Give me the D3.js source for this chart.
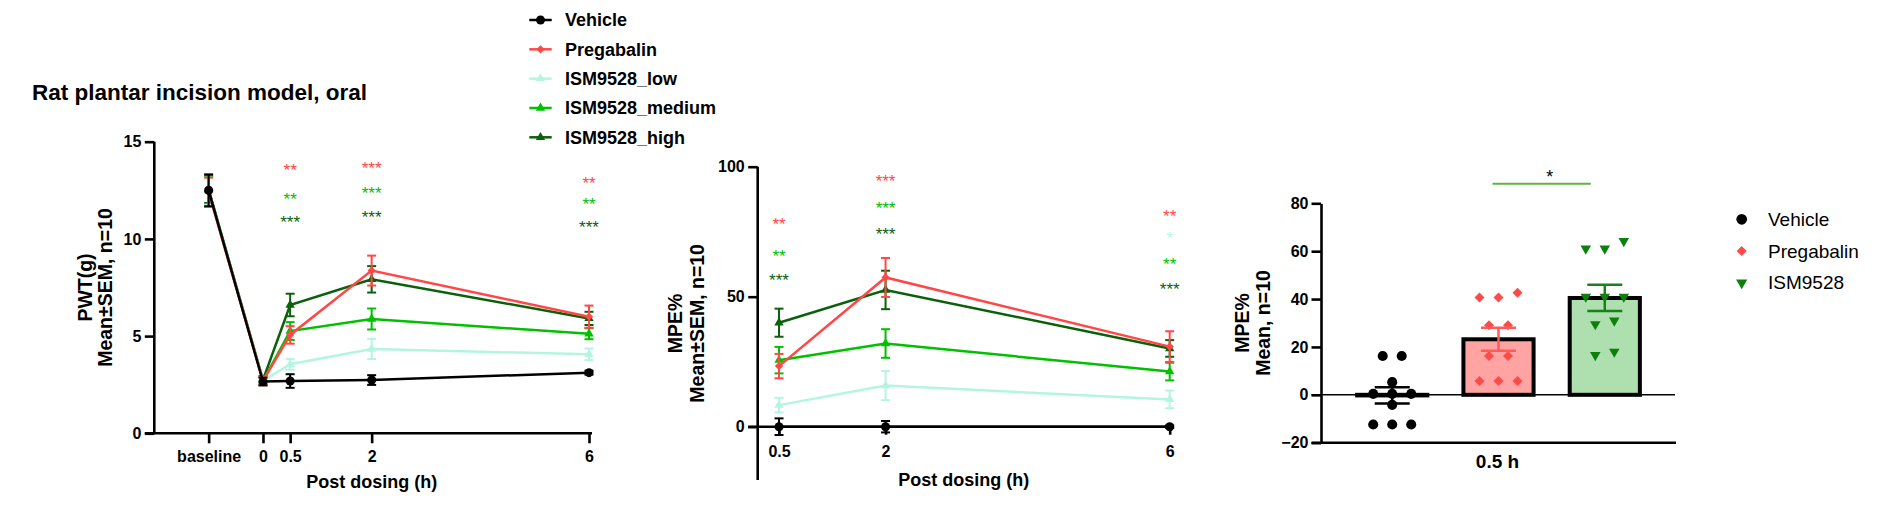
<!DOCTYPE html>
<html>
<head>
<meta charset="utf-8">
<script src="https://cdn.jsdelivr.net/npm/d3@7"></script>
<style>
  body { margin: 0; background: #fff; }
  text { font-family: "Liberation Sans", Arial, sans-serif; }
</style>
</head>
<body>
<div id="chart"></div>
<script>
// ---- groups (left + middle charts)
var groups = ["Vehicle", "Pregabalin", "ISM9528_low", "ISM9528_medium", "ISM9528_high"];
var groupColors = ["#000000", "#ff4747", "#b4f5e2", "#00c000", "#0b600b"];
var groupShapes = ["circle", "diamond", "triangle", "triangle", "triangle"];

// ---- PWT (g), mean and SEM
var pwtHours = [-1, 0, 0.5, 2, 6];
var pwtTickLabels = ["baseline", "0", "0.5", "2", "6"];
var pwtVehicle = [12.5, 2.66, 2.69, 2.74, 3.12];
var pwtPregabalin = [12.4, 2.7, 5.06, 8.37, 6.0];
var pwtLow = [12.45, 2.7, 3.55, 4.34, 4.06];
var pwtMedium = [12.5, 2.7, 5.26, 5.88, 5.12];
var pwtHigh = [12.55, 2.75, 6.6, 7.92, 5.91];
var pwtVehicleSem = [0.82, 0.2, 0.35, 0.25, 0.1];
var pwtPregabalinSem = [0.75, 0.2, 0.45, 0.77, 0.57];
var pwtLowSem = [0.7, 0.2, 0.28, 0.52, 0.3];
var pwtMediumSem = [0.7, 0.2, 0.46, 0.54, 0.28];
var pwtHighSem = [0.7, 0.2, 0.58, 0.68, 0.34];
// significance marks (text and height in PWT units)
var pwtStarsPregabalin = ["", "", "**", "***", "**"];
var pwtStarsMedium = ["", "", "**", "***", "**"];
var pwtStarsHigh = ["", "", "***", "***", "***"];
var pwtStarLevelPregabalin = [0, 0, 13.7, 13.84, 13.03];
var pwtStarLevelMedium = [0, 0, 12.22, 12.52, 11.97];
var pwtStarLevelHigh = [0, 0, 11.06, 11.28, 10.8];

// ---- MPE% over time, mean and SEM
var mpeHours = [0.5, 2, 6];
var mpeTickLabels = ["0.5", "2", "6"];
var mpeVehicle = [0, 0, 0];
var mpePregabalin = [23.3, 57.4, 30.8];
var mpeLow = [8.3, 15.8, 10.5];
var mpeMedium = [25.6, 32, 21.2];
var mpeHigh = [40, 52.6, 30.1];
var mpeVehicleSem = [3.2, 2.2, 0.5];
var mpePregabalinSem = [4.7, 7.5, 5.9];
var mpeLowSem = [2.8, 5.6, 3.4];
var mpeMediumSem = [5.1, 5.5, 3.4];
var mpeHighSem = [5.4, 7.4, 3.2];
var mpeStarsPregabalin = ["**", "***", "**"];
var mpeStarsLow = ["", "", "*"];
var mpeStarsMedium = ["**", "***", "**"];
var mpeStarsHigh = ["***", "***", "***"];
var mpeStarLevelPregabalin = [79.1, 95.8, 82.3];
var mpeStarLevelLow = [0, 0, 73.7];
var mpeStarLevelMedium = [67.1, 85.3, 63.8];
var mpeStarLevelHigh = [57.6, 75.3, 54.2];

// ---- MPE% at 0.5 h, individual animals
var barGroups = ["Vehicle", "Pregabalin", "ISM9528"];
var barPointsVehicle = [16.2, 16.2, 5.3, 0.4, 0.4, 0.4, -4.2, -12.4, -12.4, -12.4];
var barPointsPregabalin = [42.6, 40.7, 40.7, 29.1, 29.1, 16.2, 16.2, 5.8, 5.8, 5.8];
var barPointsIsm = [64.2, 61.1, 61.1, 41, 41, 41, 31, 29.5, 18, 16.6];
var barTicks = [-20, 0, 20, 40, 60, 80];
var barSignificance = ["Pregabalin", "ISM9528", "*", 88.2];

var barPointColors = ["#000000", "#ff4a4a", "#0b800b"];
var barFills = ["#7f7f7f", "#ffa3a3", "#aedfae"];
var barErrColors = ["#000000", "#ff5a5a", "#1a801a"];
var barShapes = ["circle", "diamond", "triangleDown"];

// -----------------------------------------------------------------
const W = 1885, H = 525;
let svg = d3.select('#chart').append('svg')
    .attr('width', W).attr('height', H);

function symbolPath(shape, size) {
    if (shape === 'circle') return d3.symbol(d3.symbolCircle, size)();
    if (shape === 'diamond') return d3.symbol(d3.symbolSquare, size)();
    return d3.symbol(d3.symbolTriangle, size)();
}
function symbolRotate(shape) {
    if (shape === 'diamond') return 45;
    if (shape === 'triangleDown') return 180;
    return 0;
}
function styleAxis(ax, fontSize) {
    ax.selectAll('path, line').attr('stroke', '#000').attr('stroke-width', 2.6);
    ax.selectAll('text')
        .attr('fill', '#000')
        .style('font-size', fontSize + 'px')
        .style('font-weight', 'bold');
}

// title
svg.append('text')
    .attr('x', 32).attr('y', 100)
    .style('font-size', '22.5px').style('font-weight', 'bold')
    .text('Rat plantar incision model, oral');

function buildLine(cfg) {
    const x = d3.scaleLinear().domain(cfg.xDomain).range(cfg.xRange);
    const y = d3.scaleLinear().domain(cfg.yDomain).range(cfg.yRange);
    let g = svg.append('g');

    // y-axis
    let yAxis = g.append('g')
        .attr('transform', `translate(${cfg.xRange[0]},0)`)
        .call(d3.axisLeft(y).tickValues(cfg.yTicks).tickSize(9.5).tickPadding(3.5).tickSizeOuter(0));
    yAxis.select('.domain').attr('d', `M0,${cfg.yRange[0] + cfg.yExtra}V${cfg.yRange[1]}`);
    styleAxis(yAxis, 16);

    // x-axis
    let xAxis = g.append('g')
        .attr('transform', `translate(0,${y(cfg.xAxisAt)})`)
        .call(d3.axisBottom(x).tickValues(cfg.xTicks)
            .tickFormat((d, i) => cfg.xLabels[i])
            .tickSize(cfg.xTickSize).tickPadding(cfg.xPad).tickSizeOuter(0));
    xAxis.select('.domain').attr('d', `M${cfg.xRange[0] - 9.5},0H${x(cfg.xTicks[cfg.xTicks.length - 1]) + 3}`);
    styleAxis(xAxis, 16);

    // axis titles
    g.append('text')
        .attr('x', (cfg.xRange[0] + cfg.xRange[1]) / 2 + cfg.xTitleShift)
        .attr('y', cfg.xTitleY).attr('dy', '0.35em')
        .attr('text-anchor', 'middle')
        .style('font-size', '18px').style('font-weight', 'bold')
        .text('Post dosing (h)');

    const yMid = (cfg.yRange[0] + cfg.yRange[1] + cfg.yExtra) / 2;
    cfg.yTitle.forEach((t, i) => {
        g.append('text')
            .attr('transform', `translate(${cfg.yTitleX[i]},${yMid}) rotate(-90)`)
            .attr('dy', '0.35em')
            .attr('text-anchor', 'middle')
            .style('font-size', '19.5px').style('font-weight', 'bold')
            .text(t);
    });

    // series, last group drawn first
    for (let k = groups.length - 1; k >= 0; k--) {
        const pts = cfg.xTicks.map((h, i) => ({ h: h, m: cfg.means[k][i], s: cfg.sems[k][i] }));
        const col = groupColors[k];
        let sg = g.append('g');

        sg.append('path')
            .datum(pts)
            .attr('fill', 'none')
            .attr('stroke', col)
            .attr('stroke-width', 2.5)
            .attr('d', d3.line().x(d => x(d.h)).y(d => y(d.m)));

        let eb = sg.selectAll('g.err').data(pts).enter().append('g')
            .attr('stroke', col).attr('stroke-width', 2).attr('fill', 'none');
        eb.append('line')
            .attr('x1', d => x(d.h)).attr('x2', d => x(d.h))
            .attr('y1', d => y(d.m - d.s)).attr('y2', d => y(d.m + d.s));
        eb.append('line')
            .attr('x1', d => x(d.h) - 4.5).attr('x2', d => x(d.h) + 4.5)
            .attr('y1', d => y(d.m + d.s)).attr('y2', d => y(d.m + d.s));
        eb.append('line')
            .attr('x1', d => x(d.h) - 4.5).attr('x2', d => x(d.h) + 4.5)
            .attr('y1', d => y(d.m - d.s)).attr('y2', d => y(d.m - d.s));

        const shape = groupShapes[k];
        const size = shape === 'circle' ? 64 : (shape === 'diamond' ? 34 : 38);
        sg.selectAll('path.mk').data(pts).enter().append('path')
            .attr('d', symbolPath(shape, size))
            .attr('fill', col)
            .attr('transform', d => `translate(${x(d.h)},${y(d.m)}) rotate(${symbolRotate(shape)})`);
    }

    // significance marks
    cfg.stars.forEach(st => {
        st.text.forEach((t, i) => {
            if (!t) return;
            g.append('text')
                .attr('x', x(cfg.xTicks[i]))
                .attr('y', y(st.level[i]))
                .attr('dy', '0.55em')
                .attr('text-anchor', 'middle')
                .attr('fill', groupColors[st.group])
                .style('font-size', '17px')
                .text(t);
        });
    });
}

// left chart: PWT
buildLine({
    xDomain: [-2, 6], xRange: [154.3, 589],
    yDomain: [0, 15], yRange: [433.3, 141.7], yExtra: 0,
    yTicks: [0, 5, 10, 15],
    xTicks: pwtHours, xLabels: pwtTickLabels,
    xAxisAt: 0, xTickSize: 10, xPad: 7.5,
    xTitleY: 481.7, xTitleShift: 0,
    yTitle: ['PWT(g)', 'Mean±SEM, n=10'], yTitleX: [85, 105],
    means: [pwtVehicle, pwtPregabalin, pwtLow, pwtMedium, pwtHigh],
    sems: [pwtVehicleSem, pwtPregabalinSem, pwtLowSem, pwtMediumSem, pwtHighSem],
    stars: [
        { group: 1, text: pwtStarsPregabalin, level: pwtStarLevelPregabalin },
        { group: 3, text: pwtStarsMedium, level: pwtStarLevelMedium },
        { group: 4, text: pwtStarsHigh, level: pwtStarLevelHigh }
    ]
});

// middle chart: MPE% over time
buildLine({
    xDomain: [0.2, 6], xRange: [757.7, 1169.7],
    yDomain: [-20, 100], yRange: [478.7, 166.7], yExtra: 1.3,
    yTicks: [0, 50, 100],
    xTicks: mpeHours, xLabels: mpeTickLabels,
    xAxisAt: 0, xTickSize: 8, xPad: 11,
    xTitleY: 480, xTitleShift: 0,
    yTitle: ['MPE%', 'Mean±SEM, n=10'], yTitleX: [675, 697],
    means: [mpeVehicle, mpePregabalin, mpeLow, mpeMedium, mpeHigh],
    sems: [mpeVehicleSem, mpePregabalinSem, mpeLowSem, mpeMediumSem, mpeHighSem],
    stars: [
        { group: 1, text: mpeStarsPregabalin, level: mpeStarLevelPregabalin },
        { group: 2, text: mpeStarsLow, level: mpeStarLevelLow },
        { group: 3, text: mpeStarsMedium, level: mpeStarLevelMedium },
        { group: 4, text: mpeStarsHigh, level: mpeStarLevelHigh }
    ]
});

// top legend
const legY = d3.scalePoint().domain(groups).range([20, 137.3]);
let leg = svg.append('g');
groups.forEach((name, k) => {
    const yy = legY(name);
    leg.append('line')
        .attr('x1', 529.3).attr('x2', 551.7).attr('y1', yy).attr('y2', yy)
        .attr('stroke', groupColors[k]).attr('stroke-width', 2.5);
    const shape = groupShapes[k];
    leg.append('path')
        .attr('d', symbolPath(shape, shape === 'circle' ? 64 : (shape === 'diamond' ? 34 : 38)))
        .attr('fill', groupColors[k])
        .attr('transform', `translate(540.5,${yy}) rotate(${symbolRotate(shape)})`);
    leg.append('text')
        .attr('x', 565).attr('y', yy).attr('dy', '0.35em')
        .style('font-size', '18px').style('font-weight', 'bold')
        .text(name);
});

// ---- right chart: bars + individual points at 0.5 h
const barPoints = [barPointsVehicle, barPointsPregabalin, barPointsIsm];
const xb = d3.scaleBand().domain(barGroups).range([1321, 1676]).paddingInner(0.34).paddingOuter(0.34);
const yb = d3.scaleLinear().domain([-20, 80]).range([442.7, 203.3]);
let g3 = svg.append('g');

let yAxis3 = g3.append('g')
    .attr('transform', 'translate(1321,0)')
    .call(d3.axisLeft(yb).tickValues(barTicks).tickSize(9.5).tickPadding(3).tickSizeOuter(0));
styleAxis(yAxis3, 16);

let xAxis3 = g3.append('g')
    .attr('transform', `translate(0,${yb(-20)})`)
    .call(d3.axisBottom(xb).tickSize(0).tickFormat(''));
xAxis3.select('.domain').attr('d', 'M1311.5,0H1676');
styleAxis(xAxis3, 16);

g3.append('text')
    .attr('x', 1497.5).attr('y', 461.7).attr('dy', '0.35em')
    .attr('text-anchor', 'middle')
    .style('font-size', '19px').style('font-weight', 'bold')
    .text('0.5 h');

['MPE%', 'Mean, n=10'].forEach((t, i) => {
    g3.append('text')
        .attr('transform', `translate(${[1242.5, 1263.4][i]},${(yb(-20) + yb(80)) / 2}) rotate(-90)`)
        .attr('dy', '0.35em')
        .attr('text-anchor', 'middle')
        .style('font-size', '19.5px').style('font-weight', 'bold')
        .text(t);
});

const bw = xb.bandwidth();
const stats = barPoints.map(v => ({
    mean: d3.mean(v),
    sem: d3.deviation(v) / Math.sqrt(v.length)
}));

// bars
g3.selectAll('rect.bar').data(barGroups).enter().append('rect')
    .attr('x', d => xb(d))
    .attr('y', (d, i) => yb(Math.max(0, stats[i].mean)))
    .attr('width', bw)
    .attr('height', (d, i) => Math.abs(yb(stats[i].mean) - yb(0)))
    .attr('fill', (d, i) => barFills[i])
    .attr('stroke', '#000')
    .attr('stroke-width', 4);

// zero line
g3.append('line')
    .attr('x1', 1311.5).attr('x2', 1675)
    .attr('y1', yb(0)).attr('y2', yb(0))
    .attr('stroke', '#000').attr('stroke-width', 1.6);

// individual points, rows of similar values spread sideways
barGroups.forEach((name, k) => {
    const cx = xb(name) + bw / 2;
    const rows = d3.groups(barPoints[k].slice().sort(d3.ascending), v => Math.round(v / 8));
    const shape = barShapes[k];
    const size = shape === 'circle' ? 80 : (shape === 'diamond' ? 50 : 48);
    rows.forEach(([, vals]) => {
        vals.forEach((v, j) => {
            const px = cx + (j - (vals.length - 1) / 2) * 19;
            g3.append('path')
                .attr('d', symbolPath(shape, size))
                .attr('fill', barPointColors[k])
                .attr('transform', `translate(${px},${yb(v)}) rotate(${symbolRotate(shape)})`);
        });
    });
});

// error bars (SEM)
barGroups.forEach((name, k) => {
    const cx = xb(name) + bw / 2;
    const s = stats[k];
    let eb = g3.append('g').attr('stroke', barErrColors[k]).attr('stroke-width', 2.5);
    eb.append('line').attr('x1', cx).attr('x2', cx).attr('y1', yb(s.mean - s.sem)).attr('y2', yb(s.mean + s.sem));
    [s.mean - s.sem, s.mean + s.sem].forEach(v => {
        eb.append('line').attr('x1', cx - 17.5).attr('x2', cx + 17.5).attr('y1', yb(v)).attr('y2', yb(v));
    });
});

// significance bracket
const c1 = xb(barSignificance[0]) + bw / 2, c2 = xb(barSignificance[1]) + bw / 2;
g3.append('line')
    .attr('x1', c1 - 6).attr('x2', c2 - 14)
    .attr('y1', yb(barSignificance[3])).attr('y2', yb(barSignificance[3]))
    .attr('stroke', '#5fb53a').attr('stroke-width', 2);
g3.append('text')
    .attr('x', (c1 + c2) / 2 - 2).attr('y', yb(barSignificance[3]) - 11).attr('dy', '0.55em')
    .attr('text-anchor', 'middle')
    .style('font-size', '18px')
    .text(barSignificance[2]);

// right legend
const legY3 = d3.scalePoint().domain(barGroups).range([219.3, 282.7]);
barGroups.forEach((name, k) => {
    const yy = legY3(name);
    const shape = barShapes[k];
    g3.append('path')
        .attr('d', symbolPath(shape, shape === 'circle' ? 90 : (shape === 'diamond' ? 50 : 55)))
        .attr('fill', barPointColors[k])
        .attr('transform', `translate(1741.7,${yy}) rotate(${symbolRotate(shape)})`);
    g3.append('text')
        .attr('x', 1768).attr('y', yy).attr('dy', '0.35em')
        .style('font-size', '19px')
        .text(name);
});
</script>
</body>
</html>
